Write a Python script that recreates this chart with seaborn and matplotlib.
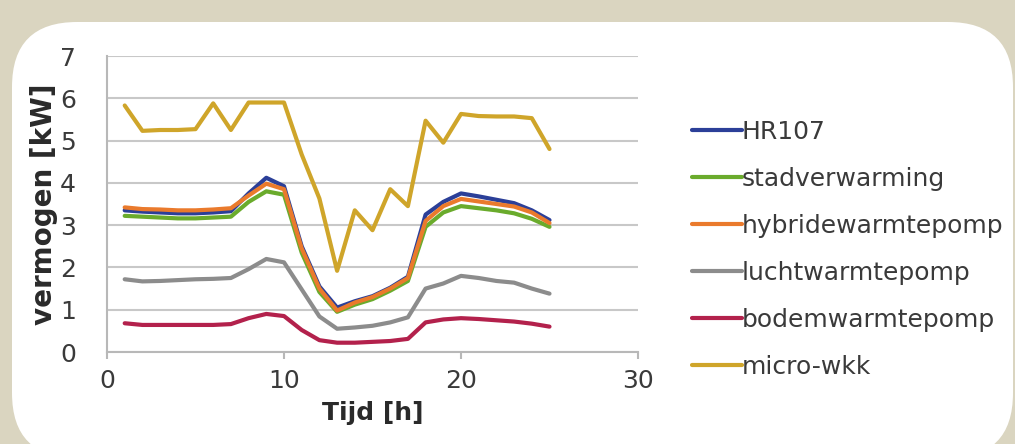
import numpy as np
import pandas as pd
import matplotlib
matplotlib.use('Agg')
import matplotlib.pyplot as plt
from matplotlib.patches import FancyBboxPatch
import seaborn as sns

# data (hourly values, kW)
uren = list(range(1, 26))
hr107 = [3.35, 3.32, 3.3, 3.28, 3.28, 3.3, 3.33, 3.75, 4.12, 3.92, 2.5, 1.55, 1.05, 1.2, 1.32, 1.52, 1.78, 3.25, 3.55, 3.75, 3.68, 3.6, 3.52, 3.35, 3.12]
stadverwarming = [3.22, 3.2, 3.18, 3.16, 3.16, 3.18, 3.2, 3.55, 3.8, 3.72, 2.35, 1.42, 0.95, 1.12, 1.25, 1.45, 1.68, 2.96, 3.3, 3.45, 3.4, 3.35, 3.28, 3.15, 2.96]
hybridewarmtepomp = [3.42, 3.38, 3.37, 3.35, 3.35, 3.37, 3.4, 3.7, 3.98, 3.85, 2.45, 1.5, 0.98, 1.17, 1.3, 1.5, 1.75, 3.1, 3.45, 3.62, 3.56, 3.5, 3.44, 3.3, 3.05]
luchtwarmtepomp = [1.72, 1.67, 1.68, 1.7, 1.72, 1.73, 1.75, 1.96, 2.2, 2.12, 1.48, 0.84, 0.55, 0.58, 0.62, 0.7, 0.82, 1.5, 1.62, 1.8, 1.75, 1.68, 1.64, 1.5, 1.38]
bodemwarmtepomp = [0.68, 0.64, 0.64, 0.64, 0.64, 0.64, 0.66, 0.8, 0.9, 0.85, 0.52, 0.28, 0.22, 0.22, 0.24, 0.26, 0.31, 0.7, 0.77, 0.8, 0.78, 0.75, 0.72, 0.67, 0.6]
micro_wkk = [5.83, 5.23, 5.25, 5.25, 5.27, 5.88, 5.25, 5.9, 5.9, 5.9, 4.67, 3.63, 1.92, 3.35, 2.88, 3.85, 3.45, 5.47, 4.95, 5.63, 5.58, 5.57, 5.57, 5.53, 4.8]

reeksen = ['HR107', 'stadverwarming', 'hybridewarmtepomp', 'luchtwarmtepomp', 'bodemwarmtepomp', 'micro-wkk']
waarden = [hr107, stadverwarming, hybridewarmtepomp, luchtwarmtepomp, bodemwarmtepomp, micro_wkk]
kleuren = ['#2b3f98', '#6aab2c', '#ea7a2c', '#8c8c8c', '#b3214c', '#cfa52a']

df = pd.DataFrame({
    'uur': uren * len(reeksen),
    'vermogen': [v for w in waarden for v in w],
    'reeks': [r for r in reeksen for _ in uren],
})

sns.set_theme(style='white')
plt.rcParams['font.family'] = ['DejaVu Sans']

fig = plt.figure(figsize=(10.15, 4.44), dpi=100)
fig.patch.set_facecolor('#dad5c0')

# witte afgeronde achtergrond
paneel = FancyBboxPatch((0.12, -0.14), 10.01, 4.36,
                        boxstyle='round,pad=0,rounding_size=0.65',
                        transform=fig.dpi_scale_trans,
                        facecolor='white', edgecolor='none', zorder=-1)
fig.add_artist(paneel)

ax = fig.add_axes([107 / 1015, 1 - 352 / 444, (638 - 107) / 1015, (352 - 56) / 444])
ax.set_facecolor('none')

sns.lineplot(data=df, x='uur', y='vermogen', hue='reeks', hue_order=reeksen,
             palette=dict(zip(reeksen, kleuren)), linewidth=3, ax=ax)

ax.set_xlim(0, 30)
ax.set_ylim(0, 7)
ax.set_xticks([0, 10, 20, 30])
ax.set_yticks(range(0, 8))
ax.yaxis.grid(True, color='#c8c8c8', linewidth=1.5)
for s in ['top', 'right']:
    ax.spines[s].set_visible(False)
for s in ['left', 'bottom']:
    ax.spines[s].set_color('#b8b8b8')
    ax.spines[s].set_linewidth(1.5)
ax.tick_params(axis='y', length=6.5, width=1.5, color='#c8c8c8', pad=16,
               labelsize=18, labelcolor='#3a3a3a')
ax.tick_params(axis='x', length=5, width=1.5, color='#b8b8b8', pad=7,
               labelsize=18, labelcolor='#3a3a3a', bottom=True)

ax.set_xlabel('Tijd [h]', fontsize=18, fontweight='bold', color='#2a2a2a', labelpad=6)
ax.set_ylabel('vermogen [kW]', fontsize=20, fontweight='bold', color='#2a2a2a', labelpad=1)

handles, labels = ax.get_legend_handles_labels()
ax.legend(handles, labels, loc='center left', bbox_to_anchor=(692 / 1015, 1 - 249 / 444),
          bbox_transform=fig.transFigure, frameon=False, fontsize=18,
          handlelength=2.0, handletextpad=0.0, borderpad=0, borderaxespad=0,
          labelspacing=0.92, labelcolor='#3a3a3a')

fig.savefig('out.png', dpi=100, facecolor=fig.get_facecolor())
